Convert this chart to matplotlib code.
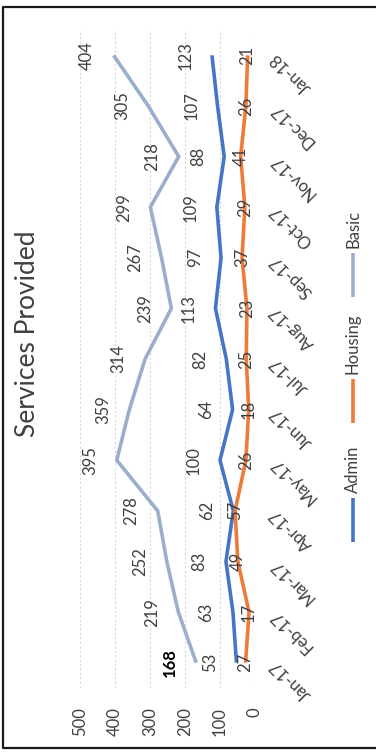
import matplotlib
matplotlib.use('Agg')
import matplotlib.pyplot as plt
from matplotlib.lines import Line2D

plt.rcParams['font.family'] = ['Lato', 'DejaVu Sans']

# monthly counts
months = ['Jan-17', 'Feb-17', 'Mar-17', 'Apr-17', 'May-17', 'Jun-17', 'Jul-17',
          'Aug-17', 'Sep-17', 'Oct-17', 'Nov-17', 'Dec-17', 'Jan-18']
admin = [53, 63, 83, 62, 100, 64, 82, 113, 97, 109, 88, 107, 123]
housing = [27, 17, 49, 57, 26, 18, 25, 23, 37, 29, 41, 26, 21]
basic = [168, 219, 252, 278, 395, 359, 314, 239, 267, 299, 218, 305, 404]
value_ticks = [0, 100, 200, 300, 400, 500]

series_names = ['Admin', 'Housing', 'Basic']
colors = ['#4675C5', '#EE7B3A', '#9AAFCB']
txt = '#404040'
fs = 12

W, H = 376, 755
fig = plt.figure(figsize=(W / 100, H / 100), dpi=100)
fig.patch.set_facecolor('white')

def fx(px):
    return px / W

def fy(py):
    return 1 - py / H

# chart is laid out sideways: values run right-to-left, months bottom-to-top
ax = fig.add_axes([fx(80), fy(688), fx(175), 658 / H])
pos = list(range(len(months)))

ax.plot(admin, pos, color=colors[0], lw=2.6, solid_capstyle='butt', zorder=3)
ax.plot(housing, pos, color=colors[1], lw=2.6, solid_capstyle='butt', zorder=3)
ax.plot(basic, pos, color=colors[2], lw=2.6, solid_capstyle='butt', zorder=3)

for v, p in zip(admin, pos):
    ax.annotate(str(v), (v, p), xytext=(-19, 0), textcoords='offset points',
                rotation=90, ha='center', va='center', fontsize=fs, color=txt)
for v, p in zip(basic, pos):
    first = p == 0
    ax.annotate(str(v), (v, p), xytext=(-19, 0), textcoords='offset points',
                rotation=90, ha='center', va='center', fontsize=fs,
                color='black' if first else txt,
                fontweight='bold' if first else 'normal')
for v, p in zip(housing, pos):
    ax.annotate(str(v), (v, p), rotation=90, ha='center', va='center',
                fontsize=fs, color=txt, zorder=4)

ax.set_xlim(500, 0)
ax.set_ylim(-0.5, len(months) - 0.5)
ax.set_xticks(value_ticks)
ax.set_xticklabels([str(t) for t in value_ticks], rotation=90, va='top',
                   fontsize=fs, color=txt)
ax.tick_params(axis='x', length=0, pad=14)

# month labels sit on the right edge, turned past vertical
ax.set_yticks(pos)
ax.tick_params(axis='y', length=0, labelleft=False)
for m, p in zip(months, pos):
    ax.annotate(m, (1, p), xycoords=('axes fraction', 'data'),
                xytext=(13, 0), textcoords='offset points',
                rotation=135, rotation_mode='anchor', ha='right', va='center',
                fontsize=fs, color=txt, annotation_clip=False)

ax.grid(axis='x', color='#D8D8D8', lw=0.8, linestyle=(0, (2, 2)))
ax.grid(axis='y', visible=False)
ax.set_axisbelow(True)
for s in ax.spines.values():
    s.set_visible(False)

fig.text(fx(28), fy(334), 'Services Provided', rotation=90, ha='center',
         va='center', fontsize=19, color=txt)

# legend drawn by hand so it can run sideways
starts = [542, 423, 297]
for name, col, y0 in zip(series_names, colors, starts):
    fig.add_artist(Line2D([fx(353), fx(353)], [fy(y0), fy(y0 - 44)],
                          color=col, lw=2.6, solid_capstyle='butt'))
    fig.text(fx(353), fy(y0 - 49), name, rotation=90, ha='center',
             va='bottom', fontsize=fs, color=txt)

# page frame, open on the right
fig.add_artist(Line2D([fx(400), fx(2.5), fx(2.5), fx(400)],
                      [fy(6.5), fy(6.5), fy(748), fy(748)],
                      color='#1A1A1A', lw=1.6))

fig.savefig('out.png', dpi=100)
